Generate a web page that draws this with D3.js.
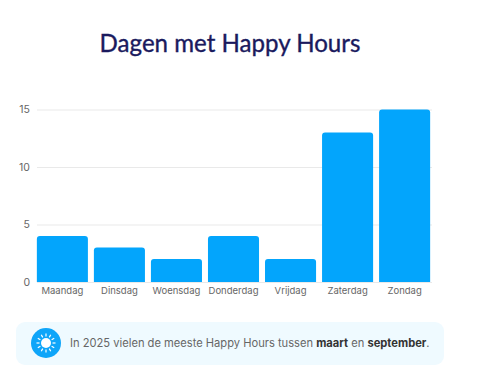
<!DOCTYPE html>
<html>
<head>
<meta charset="utf-8">
<script src="https://cdn.jsdelivr.net/npm/d3@7"></script>
<style>
  html, body { margin: 0; padding: 0; background: #fff; }
  svg { display: block; }
</style>
</head>
<body>
<svg id="chart"></svg>
<script>
const width = 478;
const height = 381;

const days = ["Maandag", "Dinsdag", "Woensdag", "Donderdag", "Vrijdag", "Zaterdag", "Zondag"];
const happyHours = [4, 3, 2, 4, 2, 13, 15];
const yTicks = [0, 5, 10, 15];
const chartTitle = "Dagen met Happy Hours";
// note text, pieces with bold flag
const noteParts = [
    ["In 2025 vielen de meeste Happy Hours tussen ", false],
    ["maart", true],
    [" en ", false],
    ["september", true],
    [".", false]
];

const svg = d3.select("#chart")
    .attr("width", width)
    .attr("height", height)
    .attr("viewBox", `0 0 ${width} ${height}`);

const x = d3.scaleBand()
    .domain(days)
    .range([34, 433])
    .paddingInner(0.105)
    .paddingOuter(0.05);

const y = d3.scaleLinear()
    .domain([0, 15])
    .range([282, 109.5]);

// title: semibold look, Lato has no 600 here so add a thin stroke
svg.append("text")
    .attr("x", 230)
    .attr("y", 52)
    .attr("text-anchor", "middle")
    .attr("font-family", "Lato")
    .attr("font-weight", 400)
    .attr("font-size", 24.1)
    .attr("fill", "#1a1a5e")
    .attr("stroke", "#1a1a5e")
    .attr("stroke-width", 0.35)
    .text(chartTitle);

// y axis with gridlines
const yAxis = svg.append("g")
    .attr("transform", "translate(37,0)")
    .call(d3.axisLeft(y).tickValues(yTicks).tickSize(-395).tickPadding(7));
yAxis.select(".domain").remove();
yAxis.selectAll("line").attr("stroke", "#e9e9e9");
yAxis.selectAll("text")
    .attr("font-family", "Inter")
    .attr("font-size", 10.5)
    .attr("fill", "#666");

svg.append("g")
    .selectAll("path")
    .data(days)
    .join("path")
    .attr("fill", "#03a5fc")
    .attr("d", (d, i) => {
        const x0 = x(d), w = x.bandwidth(), top = y(happyHours[i]), r = 3;
        return `M${x0},${y(0)}V${top + r}Q${x0},${top} ${x0 + r},${top}H${x0 + w - r}Q${x0 + w},${top} ${x0 + w},${top + r}V${y(0)}Z`;
    });

const xAxis = svg.append("g")
    .attr("transform", `translate(0,${y(0)})`)
    .call(d3.axisBottom(x).tickSize(0).tickPadding(5));
xAxis.select(".domain").remove();
xAxis.selectAll("text")
    .attr("font-family", "Inter")
    .attr("font-size", 9.5)
    .attr("fill", "#666");

// note card
svg.append("rect")
    .attr("x", 16)
    .attr("y", 322)
    .attr("width", 428)
    .attr("height", 43)
    .attr("rx", 9)
    .attr("fill", "#effaff");

const sun = svg.append("g").attr("transform", "translate(46,343)");
sun.append("circle").attr("r", 15).attr("fill", "#0ea5f9");
sun.append("circle").attr("r", 5).attr("fill", "#fff");
sun.selectAll("line")
    .data(d3.range(12))
    .join("line")
    .attr("x1", d => 6.5 * Math.cos(d * Math.PI / 6))
    .attr("y1", d => 6.5 * Math.sin(d * Math.PI / 6))
    .attr("x2", d => 9.5 * Math.cos(d * Math.PI / 6))
    .attr("y2", d => 9.5 * Math.sin(d * Math.PI / 6))
    .attr("stroke", "#fff")
    .attr("stroke-width", 1.2);

svg.append("text")
    .attr("x", 70)
    .attr("y", 347)
    .attr("font-family", "Inter")
    .attr("font-size", 11.15)
    .attr("fill", "#666")
    .attr("xml:space", "preserve")
    .selectAll("tspan")
    .data(noteParts)
    .join("tspan")
    .attr("font-weight", d => d[1] ? 700 : 400)
    .attr("fill", d => d[1] ? "#333" : "#666")
    .text(d => d[0]);
</script>
</body>
</html>
